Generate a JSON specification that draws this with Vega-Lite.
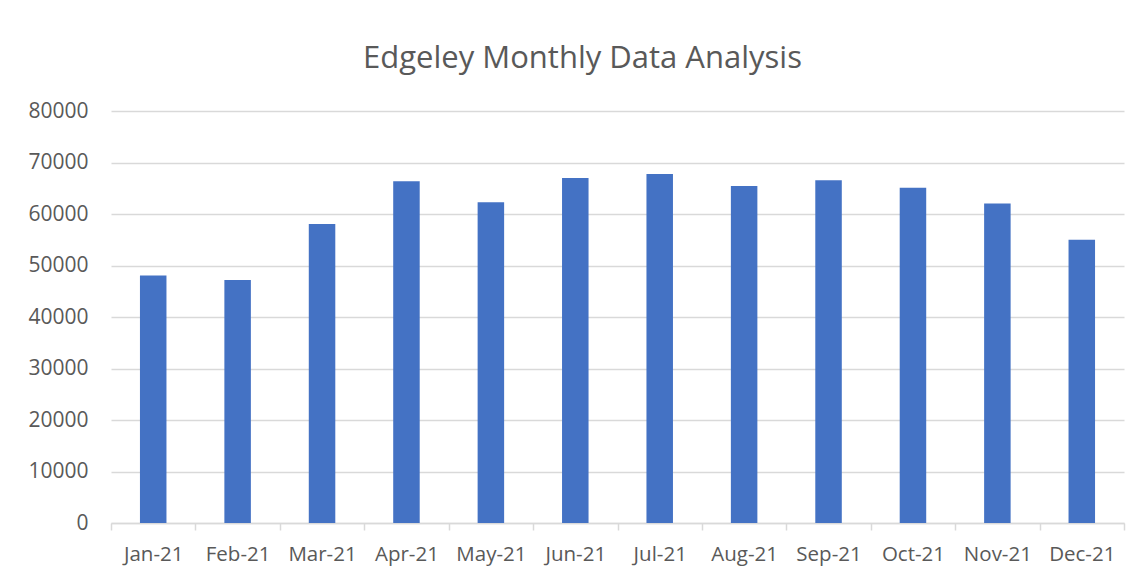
{
  "$schema": "https://vega.github.io/schema/vega-lite/v6.json",
  "width": 1013,
  "height": 412,
  "autosize": {"type": "none"},
  "padding": {"left": 111, "top": 111, "right": 19, "bottom": 53},
  "background": "white",
  "title": {
    "text": "Edgeley Monthly Data Analysis",
    "anchor": "middle",
    "dx": -35,
    "offset": 1,
    "baseline": "alphabetic",
    "font": "Open Sans",
    "fontSize": 31,
    "fontWeight": "normal",
    "color": "#595959"
  },
  "data": {
    "values": [
      {"month": "Jan-21", "value": 48050},
      {"month": "Feb-21", "value": 47200},
      {"month": "Mar-21", "value": 58040},
      {"month": "Apr-21", "value": 66340},
      {"month": "May-21", "value": 62260},
      {"month": "Jun-21", "value": 66980},
      {"month": "Jul-21", "value": 67760},
      {"month": "Aug-21", "value": 65430},
      {"month": "Sep-21", "value": 66540},
      {"month": "Oct-21", "value": 65100},
      {"month": "Nov-21", "value": 62060},
      {"month": "Dec-21", "value": 54980}
    ]
  },
  "mark": {"type": "bar", "color": "#4472C4", "width": {"band": 0.314}},
  "encoding": {
    "x": {
      "field": "month",
      "type": "nominal",
      "sort": null,
      "scale": {"paddingInner": 0, "paddingOuter": 0},
      "axis": {
        "title": null,
        "labelAngle": 0,
        "labelFont": "Open Sans",
        "labelFontSize": 20.5,
        "labelColor": "#595959",
        "labelPadding": 14,
        "domainColor": "#d9d9d9",
        "domainWidth": 1.5,
        "tickColor": "#d9d9d9",
        "tickWidth": 1.5,
        "tickSize": 7,
        "tickBand": "extent",
        "grid": false
      }
    },
    "y": {
      "field": "value",
      "type": "quantitative",
      "scale": {"domain": [0, 80000], "nice": false},
      "axis": {
        "title": null,
        "values": [0, 10000, 20000, 30000, 40000, 50000, 60000, 70000, 80000],
        "format": "d",
        "labelFont": "Open Sans",
        "labelFontSize": 21,
        "labelColor": "#595959",
        "labelPadding": 23,
        "domain": false,
        "ticks": false,
        "grid": true,
        "gridColor": "#d9d9d9",
        "gridWidth": 1.5
      }
    }
  },
  "config": {"view": {"stroke": null}}
}
